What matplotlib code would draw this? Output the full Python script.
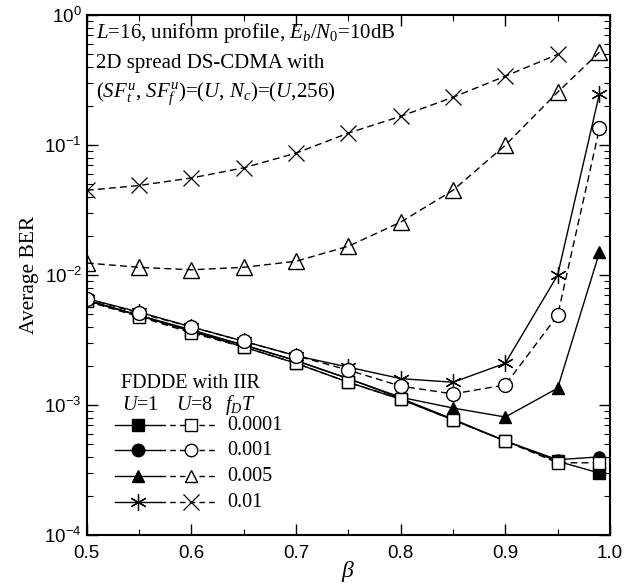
import matplotlib
matplotlib.use('Agg')
import matplotlib.pyplot as plt
from matplotlib.lines import Line2D
from matplotlib.ticker import LogLocator, NullFormatter, MultipleLocator

plt.rcParams['mathtext.fontset'] = 'custom'
plt.rcParams['mathtext.rm'] = 'Liberation Serif'
plt.rcParams['mathtext.it'] = 'Liberation Serif:italic'

# ===================== data =============================
beta = [0.5, 0.55, 0.6, 0.65, 0.7, 0.75, 0.8, 0.85, 0.9, 0.95, 0.99]
beta_short = [0.5, 0.55, 0.6, 0.65, 0.7, 0.75, 0.8, 0.85, 0.9, 0.95]

u1_0001 = [0.0064, 0.0049, 0.0037, 0.0028, 0.0021, 0.0015, 0.00111, 0.00077, 0.00053, 0.00037, 0.00030]
u8_0001 = [0.0063, 0.0048, 0.0036, 0.0028, 0.0021, 0.0015, 0.00111, 0.00077, 0.00053, 0.00036, 0.00036]
u1_001 = [0.0064, 0.0049, 0.0037, 0.0029, 0.0022, 0.0016, 0.00113, 0.00078, 0.00053, 0.00038, 0.00040]
u8_001 = [0.0066, 0.0051, 0.0040, 0.0031, 0.0024, 0.00186, 0.0014, 0.00122, 0.00143, 0.0049, 0.135]
u1_005 = [0.0064, 0.0049, 0.0038, 0.0029, 0.0022, 0.0016, 0.00115, 0.00095, 0.00081, 0.00135, 0.015]
u8_005 = [0.0124, 0.0115, 0.011, 0.0115, 0.0128, 0.0167, 0.0256, 0.045, 0.10, 0.256, 0.52]
u1_01 = [0.0066, 0.0052, 0.0040, 0.0031, 0.0024, 0.00196, 0.0016, 0.0015, 0.0021, 0.010, 0.25]
u8_01 = [0.045, 0.049, 0.056, 0.067, 0.087, 0.124, 0.167, 0.234, 0.34, 0.50]

fdt_labels = ['0.0001', '0.001', '0.005', '0.01']

# ===================== drawing =============================
fig = plt.figure(figsize=(6.38, 5.88), dpi=100)
ax = fig.add_axes([0.136, 0.090, 0.820, 0.884])

ms = 8
solid = dict(color='black', linestyle='-', linewidth=1.0)
dashed = dict(color='black', linestyle=(0, (5, 3)), linewidth=1.0)

ax.plot(beta, u1_0001, marker='s', markersize=ms, markerfacecolor='black', markeredgecolor='black', **solid)
ax.plot(beta, u1_001, marker='o', markersize=ms, markerfacecolor='black', markeredgecolor='black', **solid)
ax.plot(beta, u1_005, marker='^', markersize=ms + 1, markerfacecolor='black', markeredgecolor='black', **solid)
ax.plot(beta, u1_01, marker=(6, 2, 0), markersize=ms + 4, markeredgecolor='black', markeredgewidth=0.9, **solid)
ax.plot(beta, u8_0001, marker='s', markersize=ms, markerfacecolor='white', markeredgecolor='black', **dashed)
ax.plot(beta, u8_001, marker='o', markersize=ms + 2, markerfacecolor='white', markeredgecolor='black', **dashed)
ax.plot(beta, u8_005, marker='^', markersize=ms + 3, markerfacecolor='none', markeredgecolor='black', **dashed)
ax.plot(beta_short, u8_01, marker='x', markersize=ms + 4, markeredgecolor='black', markeredgewidth=0.9, **dashed)

ax.set_yscale('log')
ax.set_xlim(0.5, 1.0)
ax.set_ylim(1e-4, 1)

ax.xaxis.set_major_locator(MultipleLocator(0.1))
ax.xaxis.set_minor_locator(MultipleLocator(0.05))
ax.yaxis.set_major_locator(LogLocator(base=10, numticks=10))
ax.yaxis.set_minor_locator(LogLocator(base=10, subs=range(2, 10), numticks=10))
ax.yaxis.set_minor_formatter(NullFormatter())
ax.xaxis.set_major_formatter(plt.FuncFormatter(lambda v, p: '%.1f' % v))

ax.tick_params(which='both', direction='in', top=True, right=True, labelsize=13.5)
ax.tick_params(which='major', length=8, width=1.0)
ax.tick_params(which='minor', length=4, width=0.8)
ax.tick_params(axis='x', which='major', pad=7)
for lab in ax.get_xticklabels() + ax.get_yticklabels():
    lab.set_family('Liberation Sans')
for s in ax.spines.values():
    s.set_linewidth(1.5)

ax.set_xlabel(r'$\beta$', fontsize=17, labelpad=-2)
ax.set_ylabel('Average BER', fontsize=15.5, family='Liberation Serif', labelpad=4)

txt = dict(transform=ax.transAxes, fontsize=15, family='Liberation Serif', va='center', ha='left')
ax.text(0.018, 0.966, r'$L$=16, uniform profile, $E_b/N_0$=10dB', **txt)
ax.text(0.018, 0.908, '2D spread DS-CDMA with', **txt)
ax.text(0.018, 0.850, r'($SF_t^u$, $SF_f^u$)=($U$, $N_c$)=($U$,256)', **txt)

# custom legend
leg = dict(transform=ax.transAxes, fontsize=14.5, family='Liberation Serif', va='center', ha='left')
ax.text(0.065, 0.292, 'FDDDE with IIR', **leg)
ax.text(0.067, 0.250, r'$U$=1', **leg)
ax.text(0.170, 0.250, r'$U$=8', **leg)
ax.text(0.264, 0.250, r'$f_DT$', **leg)

legend_markers = [('s', 's'), ('o', 'o'), ('^', '^'), ((6, 2, 0), 'x')]
rows_y = [0.2115, 0.163, 0.113, 0.063]
for (mfill, mopen), yrow, lab in zip(legend_markers, rows_y, fdt_labels):
    ax.add_line(Line2D([0.054, 0.14], [yrow, yrow], transform=ax.transAxes, **solid))
    ax.add_line(Line2D([0.14, 0.25], [yrow, yrow], transform=ax.transAxes, color='black',
                       linestyle=(0, (4, 3)), linewidth=1.0))
    if mfill == (6, 2, 0):
        ax.add_line(Line2D([0.0975], [yrow], transform=ax.transAxes, marker=mfill, markersize=ms + 4,
                           markeredgecolor='black', markeredgewidth=0.9, color='black'))
    else:
        ax.add_line(Line2D([0.0975], [yrow], transform=ax.transAxes, marker=mfill, markersize=ms + 1,
                           markerfacecolor='black', markeredgecolor='black', color='black'))
    if mopen == 'x':
        ax.add_line(Line2D([0.2], [yrow], transform=ax.transAxes, marker='x', markersize=ms + 3,
                           markeredgecolor='black', markeredgewidth=0.9, color='black'))
    else:
        ax.add_line(Line2D([0.2], [yrow], transform=ax.transAxes, marker=mopen, markersize=ms + 1,
                           markerfacecolor='white', markeredgecolor='black', color='black'))
    ax.text(0.268, yrow, lab, **leg)

fig.savefig('out.png', dpi=100)
